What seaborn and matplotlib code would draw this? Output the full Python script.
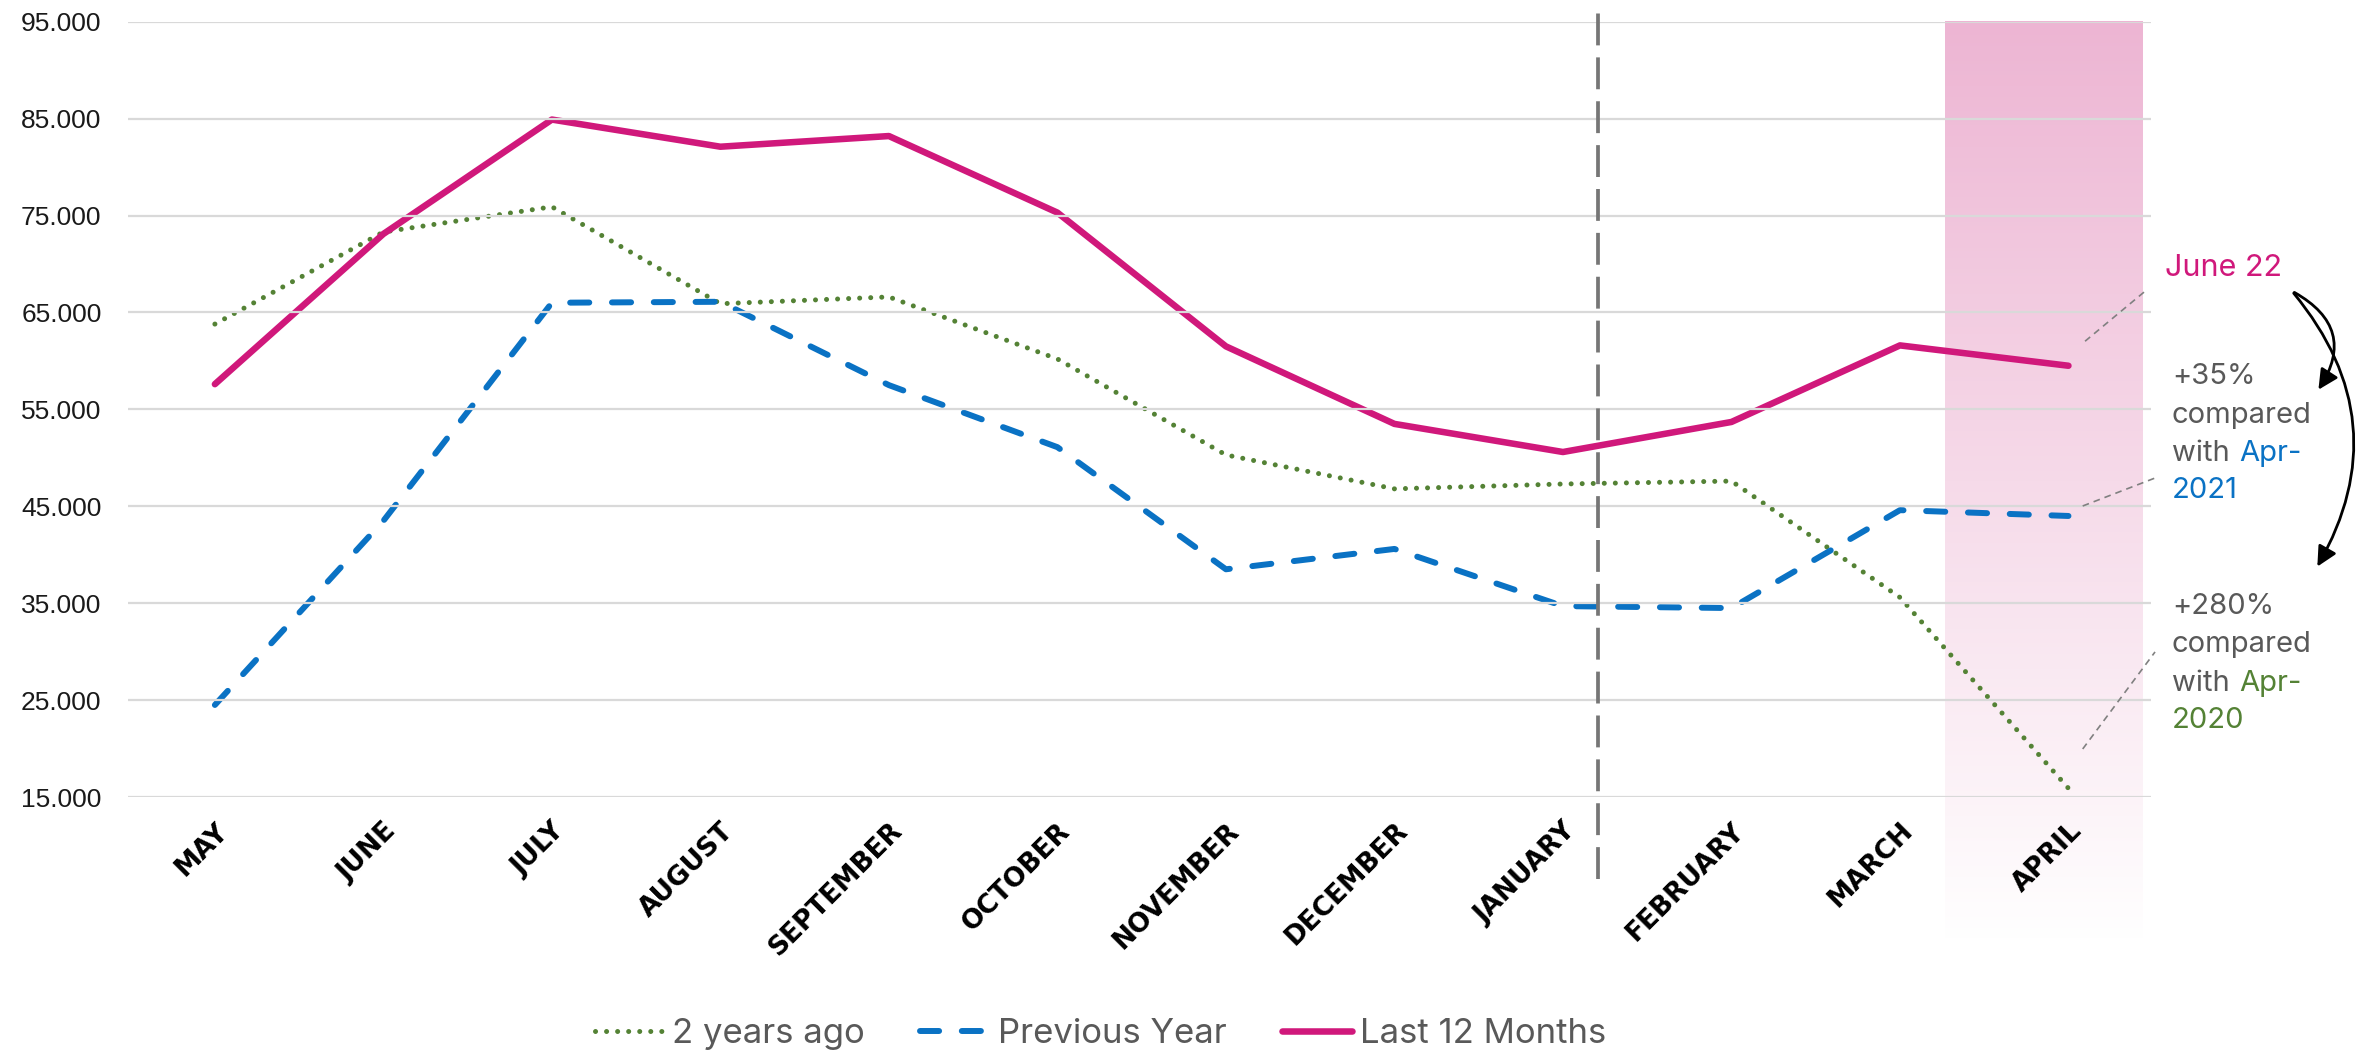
import matplotlib
matplotlib.use("Agg")
import matplotlib.pyplot as plt
from matplotlib.patches import FancyArrowPatch
from matplotlib.lines import Line2D
import numpy as np
import pandas as pd
import seaborn as sns

months = ['MAY', 'JUNE', 'JULY', 'AUGUST', 'SEPTEMBER', 'OCTOBER', 'NOVEMBER',
          'DECEMBER', 'JANUARY', 'FEBRUARY', 'MARCH', 'APRIL']
two_years_ago = [63800, 73300, 75900, 65900, 66600, 60200, 50300, 46800, 47300, 47600, 35600, 15900]
previous_year = [24500, 43500, 66000, 66100, 57500, 51100, 38500, 40600, 34700, 34500, 44600, 44000]
last_12_months = [57600, 73100, 84900, 82100, 83200, 75300, 61500, 53500, 50600, 53700, 61600, 59500]
y_ticks = [15000, 25000, 35000, 45000, 55000, 65000, 75000, 85000, 95000]

pink = '#D0187B'
blue = '#0A72C4'
green = '#548235'
grey_txt = '#595959'

green_dash = (0.01, 2.2)
blue_dash = (3.2, 3.8)

sns.set_theme(style='white')
plt.rcParams['font.family'] = ['Liberation Sans', 'DejaVu Sans']

fig = plt.figure(figsize=(23.56, 10.63), dpi=100)
ax = fig.add_axes([0.0543, 0.2502, 0.913 - 0.0543, 0.9796 - 0.2502])

x = np.arange(len(months))
dados = pd.DataFrame({'x': x, 'g': two_years_ago, 'b': previous_year, 'p': last_12_months})

# pink highlight band with fade to white
band_x0, band_x1 = 10.27, 11.44
top_rgb = np.array([237, 181, 211]) / 255
ramp = np.linspace(0, 1, 256)[:, None, None]
grad = top_rgb * (1 - ramp) + np.ones(3) * ramp
im = ax.imshow(grad, extent=(band_x0, band_x1, 0, 95000), aspect='auto', origin='upper', zorder=0.5)
im.set_clip_on(False)

a = sns.lineplot(data=dados, x='x', y='g', color=green, lw=3.6, ax=ax, label='2 years ago')
a.lines[-1].set_dashes(green_dash)
a.lines[-1].set_dash_capstyle('round')
sns.lineplot(data=dados, x='x', y='b', color=blue, lw=4.3, ax=ax, label='Previous Year')
a.lines[-1].set_dashes(blue_dash)
a.lines[-1].set_dash_capstyle('round')
sns.lineplot(data=dados, x='x', y='p', color=pink, lw=4.7, ax=ax, label='Last 12 Months')
a.lines[-1].set_solid_capstyle('round')

# year split marker
split_x = 8.21
ax.axvline(split_x, ymin=-0.106, ymax=1.011, color='#767676', lw=2.7,
           dashes=(8.5, 3.2), clip_on=False, zorder=3)

ax.set_xlim(-0.516, 11.49)
ax.set_ylim(15000, 95000)
ax.set_yticks(y_ticks)
ax.set_yticklabels([f'{v:,}'.replace(',', '.') for v in y_ticks], fontsize=19, color='#1a1a1a')
ax.set_xticks(x)
ax.set_xticklabels(months, rotation=45, ha='right', va='top', rotation_mode='anchor',
                   fontsize=19, fontweight='bold', family='DejaVu Sans', color='black')
ax.tick_params(axis='y', length=0, pad=19)
ax.tick_params(axis='x', length=0, pad=15)
ax.set_xlabel('')
ax.set_ylabel('')
ax.grid(axis='y', color='#D9D9D9', lw=1.6, zorder=1)
ax.set_axisbelow(False)
for s in ax.spines.values():
    s.set_visible(False)

ax.get_legend().remove()
handles = [Line2D([], [], color=green, lw=3.6, dashes=green_dash, dash_capstyle='round'),
           Line2D([], [], color=blue, lw=4.3, dashes=blue_dash, dash_capstyle='round'),
           Line2D([], [], color=pink, lw=4.7, solid_capstyle='round')]
leg = fig.legend(handles, ['2 years ago', 'Previous Year', 'Last 12 Months'], loc='center',
                 bbox_to_anchor=(0.467, 0.027), ncol=3, frameon=False, handlelength=2.0,
                 handletextpad=0.23, columnspacing=1.6, prop={'family': 'Inter', 'size': 25})
for t in leg.get_texts():
    t.set_color(grey_txt)

# annotations on the right
fig.text(0.9189, 0.7404, 'June 22', color=pink, fontsize=22, family='Inter', va='baseline')

def block(y0, pct, year, col):
    xs = 0.9219
    fig.text(xs, y0[0], pct, color=grey_txt, fontsize=21, family='Inter', va='baseline')
    fig.text(xs, y0[1], 'compared', color=grey_txt, fontsize=21, family='Inter', va='baseline')
    w = fig.text(xs, y0[2], 'with', color=grey_txt, fontsize=21, family='Inter', va='baseline')
    ax.annotate('Apr-', xy=(1, 0), xycoords=w, xytext=(7, 0), textcoords='offset points',
                color=col, fontsize=21, family='Inter', va='bottom', ha='left')
    fig.text(xs, y0[3], year, color=col, fontsize=21, family='Inter', va='baseline')

block([0.6388, 0.6021, 0.5663, 0.5315], '+35%', '2021', blue)
block([0.4224, 0.3866, 0.3500, 0.3152], '+280%', '2020', green)

for (x0, y0), (x1, y1) in [((0.885, 0.679), (0.911, 0.727)),
                           ((0.884, 0.524), (0.9155, 0.551)),
                           ((0.884, 0.2954), (0.9147, 0.3867))]:
    fig.add_artist(Line2D([x0, x1], [y0, y1], transform=fig.transFigure, color='#808080',
                          lw=1.2, dashes=(4, 3)))

for end, rad in [((0.9834, 0.6312), -0.55), ((0.9830, 0.4647), -0.35)]:
    arr = FancyArrowPatch((0.9728, 0.7262), end, transform=fig.transFigure,
                          connectionstyle=f'arc3,rad={rad}',
                          arrowstyle='-|>,head_length=0.6,head_width=0.3',
                          mutation_scale=20, lw=2.0, color='black')
    fig.add_artist(arr)

fig.savefig('out.png', dpi=100)
